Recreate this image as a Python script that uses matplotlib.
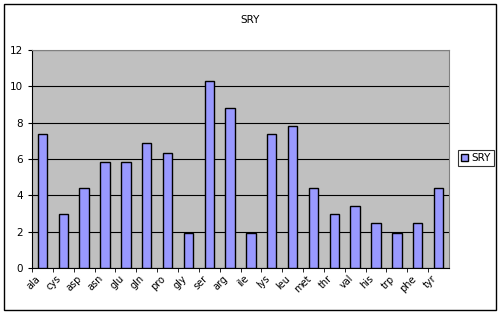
import matplotlib.pyplot as plt
import numpy as np

# amino acid categories and SRY values
amino = ["ala", "cys", "asp", "asn", "glu", "gln", "pro", "gly", "ser", "arg",
         "ile", "lys", "leu", "met", "thr", "val", "his", "trp", "phe", "tyr"]
sry = [7.35, 2.95, 4.4, 5.85, 5.85, 6.9, 6.35, 1.95, 10.3, 8.8,
       1.95, 7.35, 7.8, 4.4, 2.95, 3.4, 2.45, 1.95, 2.45, 4.4]

fig = plt.figure(figsize=(5, 3.14), dpi=100)
ax = fig.add_axes([32 / 500, 1 - 268 / 314, 417 / 500, 218 / 314])

x = np.arange(len(amino))
bars = ax.bar(x, sry, width=0.45, color="#9999FF", edgecolor="black",
              linewidth=1.0, label="SRY", zorder=3)

ax.set_facecolor("#C0C0C0")
ax.set_xlim(-0.5, len(amino) - 0.5)
ax.set_ylim(0, 12)
ax.set_yticks(range(0, 13, 2))
ax.yaxis.grid(True, color="black", linewidth=0.8, zorder=1)
ax.set_xticks(x - 0.5, minor=True)
ax.set_xticks(x)
ax.set_xticklabels(amino, rotation=45, ha="right", fontsize=7)
ax.tick_params(axis="x", which="major", length=0, pad=4)
ax.tick_params(axis="x", which="minor", length=3)
ax.tick_params(axis="y", labelsize=7.5, length=3)
for s in ["top", "right"]:
    ax.spines[s].set_color("#808080")
ax.spines["left"].set_color("black")
ax.spines["bottom"].set_color("black")

fig.text(0.5, 1 - 20 / 314, "SRY", ha="center", va="center", fontsize=7.5)

leg = fig.legend(handles=[bars], labels=["SRY"], loc="center",
                 bbox_to_anchor=(476 / 500, 1 - 158 / 314), fontsize=7.5,
                 frameon=True, fancybox=False, handlelength=0.7,
                 handletextpad=0.3, borderpad=0.3, borderaxespad=0)
leg.get_frame().set_edgecolor("black")
leg.get_frame().set_linewidth(0.8)

# outer chart border
fig.patches.append(plt.Rectangle((4 / 500, 4 / 314), 492 / 500, 306 / 314,
                                 transform=fig.transFigure, fill=False,
                                 edgecolor="black", linewidth=1))

fig.savefig("out.png", dpi=100)
